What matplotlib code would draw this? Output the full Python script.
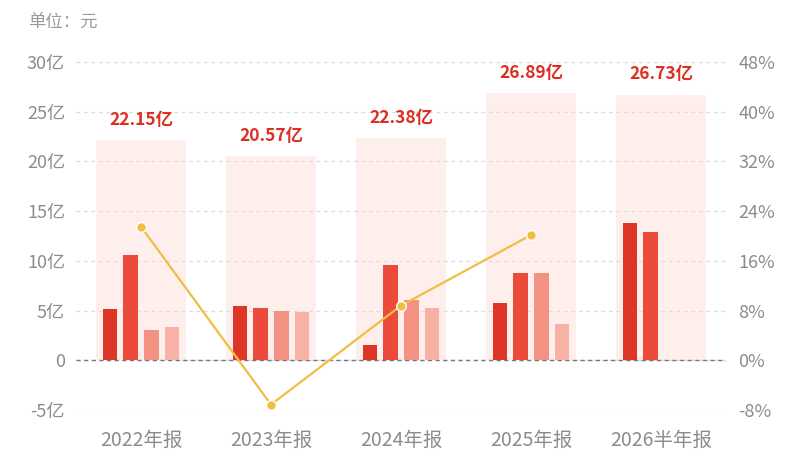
import numpy as np
import matplotlib
matplotlib.use('Agg')
import matplotlib.pyplot as plt

plt.rcParams['font.family'] = ['Noto Sans CJK SC', 'DejaVu Sans']

# data (亿元 / %)
periods = ['2022年报', '2023年报', '2024年报', '2025年报', '2026半年报']
totals = [22.15, 20.57, 22.38, 26.89, 26.73]
total_labels = ['22.15亿', '20.57亿', '22.38亿', '26.89亿', '26.73亿']
q1 = [5.20, 5.45, 1.55, 5.75, 13.80]
q2 = [10.60, 5.25, 9.55, 8.75, 12.93]
q3 = [3.05, 5.00, 6.05, 8.75, np.nan]
q4 = [3.30, 4.87, 5.23, 3.64, np.nan]
growth = [21.5, -7.13, 8.80, 20.15, np.nan]
left_ticks = [-5, 0, 5, 10, 15, 20, 25, 30]
left_labels = ['-5亿', '0', '5亿', '10亿', '15亿', '20亿', '25亿', '30亿']
right_ticks = [-8, 0, 8, 16, 24, 32, 40, 48]
right_labels = ['-8%', '0%', '8%', '16%', '24%', '32%', '40%', '48%']

bg_color = '#FEEFEC'
q_colors = ['#DD3626', '#EC4A3B', '#F39282', '#F8B2A5']
label_red = '#DC2F22'
line_color = '#F0BE45'
grey = '#8C8C8C'

fig = plt.figure(figsize=(8, 4.5), dpi=100)
ax = fig.add_axes([0.095, 1 - 410 / 450, 0.8125, (410 - 62) / 450])
x = np.arange(len(periods))

ax.bar(x, totals, width=0.69, color=bg_color, zorder=1)
step = 0.158
for i, q in enumerate([q1, q2, q3, q4]):
    ax.bar(x + (i - 1.5) * step, q, width=0.112, color=q_colors[i], zorder=2)

for xi, t, lab in zip(x, totals, total_labels):
    ax.annotate(lab, (xi, t), xytext=(0, 14.5), textcoords='offset points',
                ha='center', va='center', fontsize=12.5, fontweight='bold',
                color=label_red, zorder=5)

ax.set_xlim(-0.5, 4.5)
ax.set_ylim(-5, 30)
ax.set_yticks(left_ticks)
ax.set_yticklabels(left_labels)
ax.set_xticks(x)
ax.set_xticklabels(periods, fontsize=14)
ax.set_axisbelow('line')
ax.yaxis.grid(True, color='#DCDCDC', linestyle=(0, (3, 3)), linewidth=0.9)
ax.axhline(0, color='#777777', linestyle=(0, (3, 2.5)), linewidth=1, zorder=1.6)
ax.tick_params(axis='y', length=0, labelsize=13, labelcolor=grey, pad=8)
ax.tick_params(axis='x', length=0, labelcolor=grey, pad=14)
for s in ax.spines.values():
    s.set_visible(False)

ax2 = ax.twinx()
ax2.set_ylim(-8, 48)
ax2.set_yticks(right_ticks)
ax2.set_yticklabels(right_labels)
ax2.tick_params(axis='y', length=0, labelsize=13, labelcolor=grey, pad=9)
for s in ax2.spines.values():
    s.set_visible(False)
ax2.plot(x, growth, color=line_color, linewidth=1.6, marker='o', markersize=7,
         markerfacecolor=line_color, markeredgecolor='white', markeredgewidth=1,
         zorder=4)

fig.text(28 / 800, 1 - 23 / 450, '单位：元', fontsize=12.5, color='#9A9A9A',
         ha='left', va='center')

fig.savefig('out.png', dpi=100)
